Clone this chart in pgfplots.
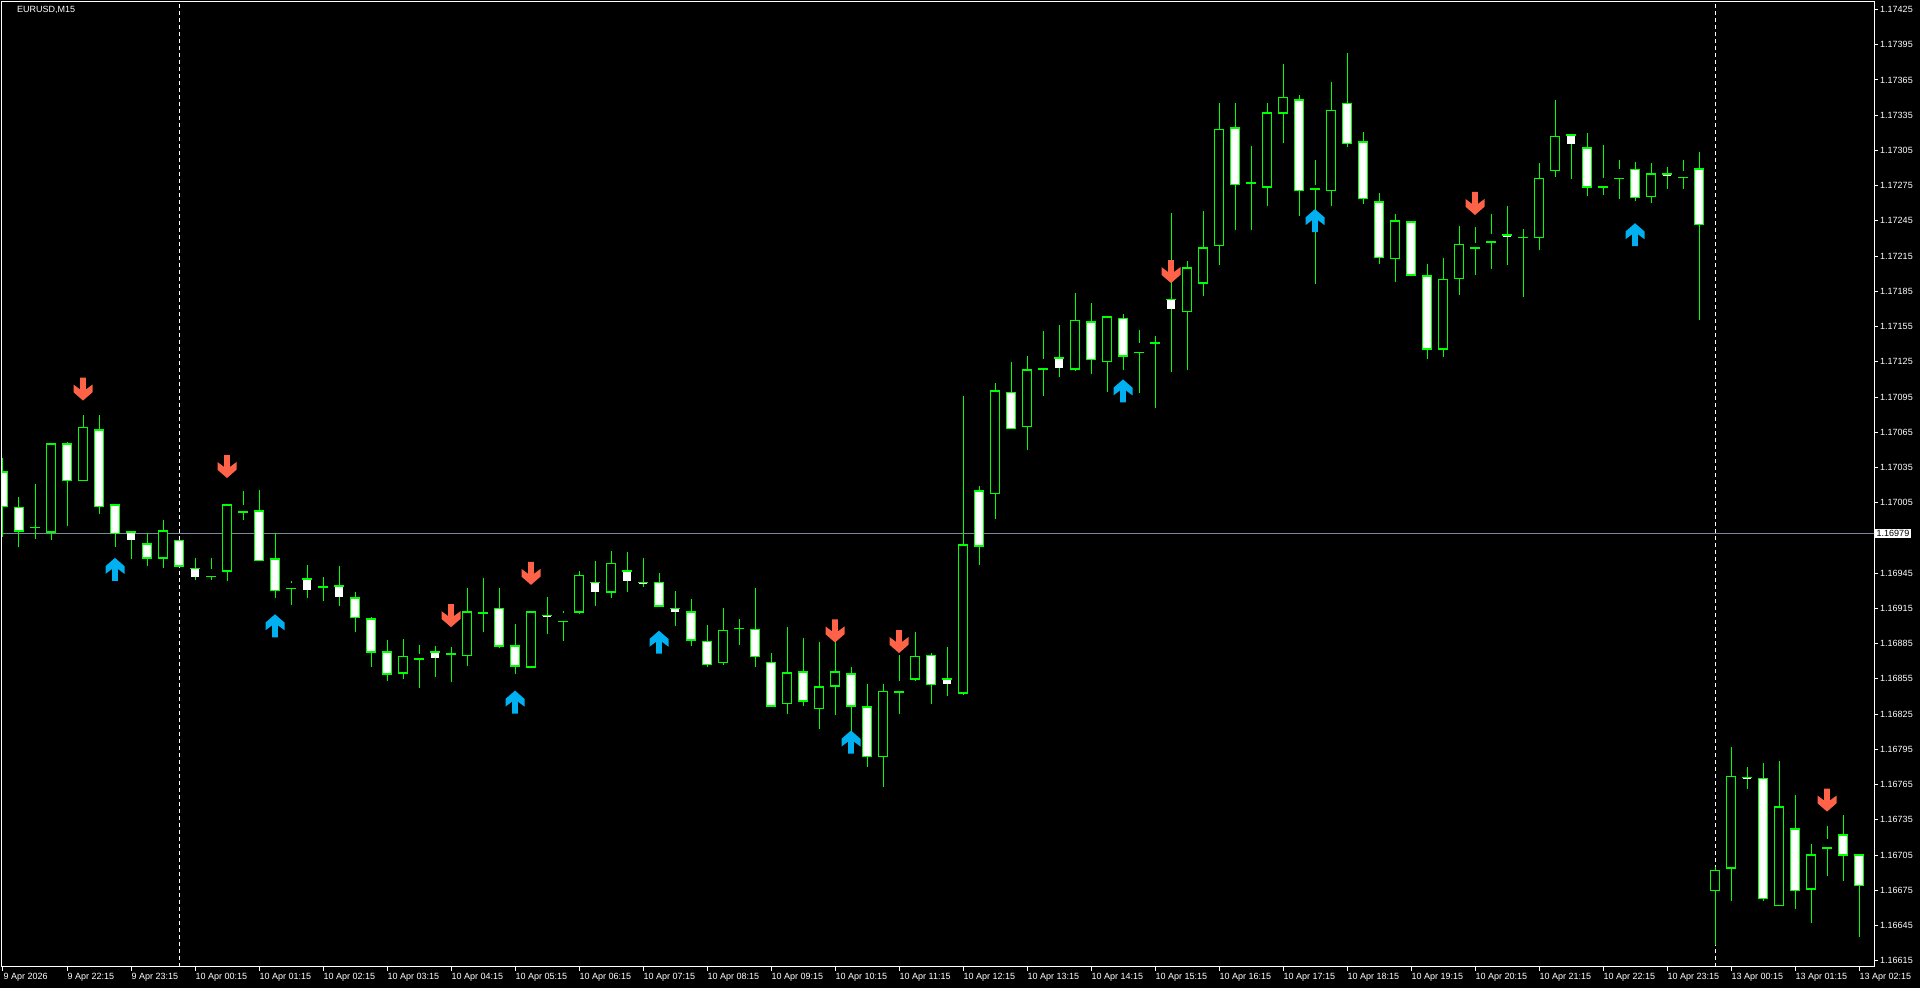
\documentclass[border=0pt]{standalone}
\usepackage{fontspec}
\setmainfont{Liberation Sans}
\usepackage{pgfplots}
\usepackage{pgfplotstable}
\pgfplotsset{compat=1.18}
\definecolor{cg}{RGB}{0,255,0}
\definecolor{arrred}{RGB}{255,99,71}
\definecolor{arrblue}{RGB}{0,176,240}
\definecolor{pline}{RGB}{119,136,153}

\pgfdeclareplotmark{arrdown}{%
  \pgfpathmoveto{\pgfqpoint{0pt}{0pt}}%
  \pgfpathlineto{\pgfqpoint{9.5pt}{8.3pt}}%
  \pgfpathlineto{\pgfqpoint{9.5pt}{16pt}}%
  \pgfpathlineto{\pgfqpoint{2.8pt}{11pt}}%
  \pgfpathlineto{\pgfqpoint{2.8pt}{23pt}}%
  \pgfpathlineto{\pgfqpoint{-2.8pt}{23pt}}%
  \pgfpathlineto{\pgfqpoint{-2.8pt}{11pt}}%
  \pgfpathlineto{\pgfqpoint{-9.5pt}{16pt}}%
  \pgfpathlineto{\pgfqpoint{-9.5pt}{8.3pt}}%
  \pgfpathclose
  \pgfusepathqfill}
\pgfdeclareplotmark{arrup}{%
  \pgfpathmoveto{\pgfqpoint{0pt}{0pt}}%
  \pgfpathlineto{\pgfqpoint{9.5pt}{-8.3pt}}%
  \pgfpathlineto{\pgfqpoint{9.5pt}{-16pt}}%
  \pgfpathlineto{\pgfqpoint{2.8pt}{-11pt}}%
  \pgfpathlineto{\pgfqpoint{2.8pt}{-23pt}}%
  \pgfpathlineto{\pgfqpoint{-2.8pt}{-23pt}}%
  \pgfpathlineto{\pgfqpoint{-2.8pt}{-11pt}}%
  \pgfpathlineto{\pgfqpoint{-9.5pt}{-16pt}}%
  \pgfpathlineto{\pgfqpoint{-9.5pt}{-8.3pt}}%
  \pgfpathclose
  \pgfusepathqfill}

\pgfplotstableread{
i O H L C
0 1.17031 1.17043 1.16976 1.17002
1 1.17001 1.17010 1.16967 1.16981
2 1.16984 1.17021 1.16974 1.16984
3 1.16980 1.17055 1.16973 1.17055
4 1.17055 1.17057 1.16985 1.17024
5 1.17024 1.17080 1.17024 1.17069
6 1.17067 1.17080 1.16995 1.17002
7 1.17003 1.17004 1.16967 1.16979
8 1.16980 1.16980 1.16957 1.16973
9 1.16970 1.16979 1.16951 1.16958
10 1.16958 1.16990 1.16949 1.16981
11 1.16973 1.16973 1.16950 1.16951
12 1.16949 1.16958 1.16939 1.16941
13 1.16942 1.16958 1.16939 1.16949
14 1.16947 1.17004 1.16938 1.17003
15 1.16997 1.17015 1.16990 1.17004
16 1.16998 1.17016 1.16956 1.16956
17 1.16957 1.16979 1.16924 1.16930
18 1.16932 1.16938 1.16918 1.16937
19 1.16940 1.16952 1.16924 1.16930
20 1.16933 1.16942 1.16921 1.16935
21 1.16934 1.16951 1.16917 1.16924
22 1.16924 1.16929 1.16895 1.16907
23 1.16906 1.16908 1.16865 1.16878
24 1.16878 1.16888 1.16853 1.16859
25 1.16860 1.16889 1.16855 1.16874
26 1.16872 1.16884 1.16847 1.16877
27 1.16878 1.16883 1.16857 1.16872
28 1.16876 1.16882 1.16852 1.16876
29 1.16875 1.16932 1.16866 1.16912
30 1.16911 1.16941 1.16895 1.16911
31 1.16915 1.16932 1.16881 1.16883
32 1.16883 1.16902 1.16859 1.16866
33 1.16865 1.16912 1.16865 1.16912
34 1.16909 1.16925 1.16893 1.16907
35 1.16904 1.16913 1.16887 1.16912
36 1.16912 1.16947 1.16910 1.16943
37 1.16937 1.16955 1.16917 1.16928
38 1.16929 1.16964 1.16924 1.16953
39 1.16947 1.16963 1.16929 1.16938
40 1.16937 1.16958 1.16933 1.16935
41 1.16937 1.16945 1.16917 1.16917
42 1.16915 1.16930 1.16900 1.16911
43 1.16912 1.16923 1.16883 1.16888
44 1.16887 1.16901 1.16865 1.16867
45 1.16869 1.16915 1.16867 1.16896
46 1.16898 1.16906 1.16884 1.16898
47 1.16897 1.16932 1.16865 1.16874
48 1.16869 1.16877 1.16832 1.16832
49 1.16834 1.16899 1.16825 1.16860
50 1.16861 1.16890 1.16832 1.16836
51 1.16830 1.16886 1.16812 1.16848
52 1.16849 1.16886 1.16824 1.16861
53 1.16859 1.16865 1.16811 1.16832
54 1.16831 1.16851 1.16780 1.16789
55 1.16789 1.16851 1.16763 1.16844
56 1.16844 1.16875 1.16825 1.16854
57 1.16855 1.16895 1.16853 1.16874
58 1.16875 1.16877 1.16834 1.16850
59 1.16855 1.16882 1.16840 1.16850
60 1.16843 1.17096 1.16841 1.16969
61 1.17015 1.17019 1.16952 1.16968
62 1.17013 1.17107 1.16991 1.17100
63 1.17099 1.17125 1.17068 1.17068
64 1.17070 1.17130 1.17050 1.17118
65 1.17119 1.17151 1.17096 1.17128
66 1.17128 1.17156 1.17112 1.17119
67 1.17119 1.17184 1.17117 1.17160
68 1.17159 1.17175 1.17115 1.17127
69 1.17125 1.17164 1.17099 1.17163
70 1.17162 1.17166 1.17118 1.17130
71 1.17133 1.17152 1.17098 1.17142
72 1.17141 1.17147 1.17086 1.17141
73 1.17178 1.17252 1.17116 1.17169
74 1.17168 1.17211 1.17118 1.17205
75 1.17192 1.17253 1.17181 1.17222
76 1.17224 1.17345 1.17207 1.17323
77 1.17324 1.17345 1.17237 1.17276
78 1.17277 1.17309 1.17237 1.17277
79 1.17274 1.17345 1.17258 1.17337
80 1.17337 1.17379 1.17311 1.17350
81 1.17348 1.17352 1.17249 1.17271
82 1.17272 1.17297 1.17191 1.17276
83 1.17271 1.17363 1.17258 1.17339
84 1.17345 1.17388 1.17308 1.17311
85 1.17312 1.17321 1.17259 1.17264
86 1.17261 1.17269 1.17208 1.17214
87 1.17213 1.17251 1.17193 1.17245
88 1.17244 1.17244 1.17198 1.17199
89 1.17198 1.17208 1.17127 1.17136
90 1.17136 1.17213 1.17129 1.17195
91 1.17196 1.17241 1.17182 1.17225
92 1.17222 1.17240 1.17199 1.17227
93 1.17227 1.17251 1.17204 1.17234
94 1.17233 1.17258 1.17207 1.17231
95 1.17231 1.17238 1.17180 1.17231
96 1.17231 1.17294 1.17220 1.17281
97 1.17288 1.17348 1.17282 1.17317
98 1.17318 1.17318 1.17281 1.17310
99 1.17307 1.17320 1.17266 1.17274
100 1.17274 1.17310 1.17267 1.17282
101 1.17281 1.17297 1.17264 1.17290
102 1.17289 1.17295 1.17262 1.17265
103 1.17266 1.17294 1.17260 1.17285
104 1.17285 1.17291 1.17272 1.17283
105 1.17282 1.17297 1.17272 1.17288
106 1.17289 1.17304 1.17161 1.17242
107 1.16675 1.16695 1.16628 1.16692
108 1.16694 1.16797 1.16666 1.16772
109 1.16771 1.16780 1.16761 1.16769
110 1.16770 1.16783 1.16666 1.16668
111 1.16662 1.16785 1.16662 1.16746
112 1.16727 1.16756 1.16659 1.16675
113 1.16676 1.16714 1.16647 1.16705
114 1.16711 1.16730 1.16687 1.16719
115 1.16722 1.16739 1.16683 1.16705
116 1.16705 1.16705 1.16635 1.16679
}\candles

\pgfplotstableread{
i p
5 1.17092
14 1.17026
28 1.16899
33 1.16935
52 1.16886
56 1.16877
73 1.17192
92 1.17250
114 1.16742
}\redarr

\pgfplotstableread{
i p
7 1.16958
17 1.16910
32 1.16845
41 1.16896
53 1.16811
70 1.17110
82 1.17255
102 1.17243
}\bluearr

\begin{document}
\begin{tikzpicture}
\fill[black] (0,0) rectangle (1920pt,988pt);
\begin{axis}[
  at={(2pt,21pt)}, anchor=south west,
  scale only axis, width=1872pt, height=965pt,
  xmin=-0.0625, xmax=116.9375,
  ymin=1.1660963, ymax=1.1743139,
  axis line style={white, line width=1pt},
  axis background/.style={fill=black},
  tick style={white, line width=1pt},
  tick align=outside, major tick length=4pt,
  xtick pos=bottom, ytick pos=right,
  yticklabel pos=right,
  xtick={0,4,...,116},
  xticklabels={9 Apr 2026, 9 Apr 22:15, 9 Apr 23:15, 10 Apr 00:15, 10 Apr 01:15, 10 Apr 02:15, 10 Apr 03:15, 10 Apr 04:15, 10 Apr 05:15, 10 Apr 06:15, 10 Apr 07:15, 10 Apr 08:15, 10 Apr 09:15, 10 Apr 10:15, 10 Apr 11:15, 10 Apr 12:15, 10 Apr 13:15, 10 Apr 14:15, 10 Apr 15:15, 10 Apr 16:15, 10 Apr 17:15, 10 Apr 18:15, 10 Apr 19:15, 10 Apr 20:15, 10 Apr 21:15, 10 Apr 22:15, 10 Apr 23:15, 13 Apr 00:15, 13 Apr 01:15, 13 Apr 02:15},
  ytick={1.16615,1.16645,1.16675,1.16705,1.16735,1.16765,1.16795,1.16825,1.16855,1.16885,1.16915,1.16945,1.16975,1.17005,1.17035,1.17065,1.17095,1.17125,1.17155,1.17185,1.17215,1.17245,1.17275,1.17305,1.17335,1.17365,1.17395,1.17425},
  yticklabels={1.16615,1.16645,1.16675,1.16705,1.16735,1.16765,1.16795,1.16825,1.16855,1.16885,1.16915,1.16945,{},1.17005,1.17035,1.17065,1.17095,1.17125,1.17155,1.17185,1.17215,1.17245,1.17275,1.17305,1.17335,1.17365,1.17395,1.17425},
  /pgf/number format/assume math mode=true,
  xticklabel style={anchor=north west, inner sep=0pt, xshift=0.5pt, yshift=-2pt, text=white, font=\fontsize{9}{10}\selectfont},
  yticklabel style={anchor=west, inner sep=0pt, xshift=2pt, text=white, font=\fontsize{9}{10}\selectfont},
  clip=true,
]
% current price line and period separators
\addplot[pline, line width=1pt, forget plot] coordinates {(-1,1.16979) (118,1.16979)};
\addplot[white, line width=1pt, dash pattern=on 4pt off 3pt, forget plot] coordinates {(11,1.1655) (11,1.1750)};
\addplot[white, line width=1pt, dash pattern=on 4pt off 3pt, forget plot] coordinates {(107,1.1655) (107,1.1750)};
% wicks
\addplot[draw=none, forget plot, error bars/.cd, y dir=plus, y explicit, error mark=none,
  error bar style={draw=cg, line width=1pt}]
  table[x=i, y=L, y error expr={\thisrow{H}-\thisrow{L}}] {\candles};
% body outlines
\addplot[draw=none, forget plot, error bars/.cd, y dir=plus, y explicit, error mark=none,
  error bar style={draw=cg, line width=10.4pt, shorten <=-0.7pt, shorten >=-0.7pt}]
  table[x=i, y expr={\thisrow{C}==\thisrow{O} ? nan : min(\thisrow{O},\thisrow{C})},
        y error expr={abs(\thisrow{C}-\thisrow{O})}] {\candles};
% bull bodies (black)
\addplot[draw=none, forget plot, error bars/.cd, y dir=plus, y explicit, error mark=none,
  error bar style={draw=black, line width=7.6pt, shorten <=0.7pt, shorten >=0.7pt}]
  table[x=i, y expr={\thisrow{C}>\thisrow{O} ? \thisrow{O} : nan},
        y error expr={\thisrow{C}-\thisrow{O}}] {\candles};
% bear bodies (white)
\addplot[draw=none, forget plot, error bars/.cd, y dir=plus, y explicit, error mark=none,
  error bar style={draw=white, line width=7.6pt, shorten <=0.7pt, shorten >=0.7pt}]
  table[x=i, y expr={\thisrow{C}<\thisrow{O} ? \thisrow{C} : nan},
        y error expr={\thisrow{O}-\thisrow{C}}] {\candles};
% doji
\addplot[only marks, mark=-, mark size=5.2pt, mark options={draw=cg, line width=1.6pt}, forget plot]
  table[x=i, y expr={\thisrow{C}==\thisrow{O} ? \thisrow{O} : nan}] {\candles};
% arrows
\addplot[only marks, mark=arrdown, color=arrred, mark options={fill=arrred, draw=none}, forget plot]
  table[x=i, y=p] {\redarr};
\addplot[only marks, mark=arrup, color=arrblue, mark options={fill=arrblue, draw=none}, forget plot]
  table[x=i, y=p] {\bluearr};
\coordinate (pl) at (axis cs:116.9375,1.16979);
\end{axis}
\node[anchor=west, fill=white, text=black, inner xsep=2pt, inner ysep=1.2pt, font=\fontsize{9}{10}\selectfont] at ([xshift=0.5pt]pl) {1.16979};
\node[anchor=west, text=white, inner sep=0pt, font=\fontsize{9}{10}\selectfont] at (17pt,978pt) {EURUSD,M15};
\pgfresetboundingbox
\path[use as bounding box] (0,0) rectangle (1920pt,988pt);
\end{tikzpicture}
\end{document}
